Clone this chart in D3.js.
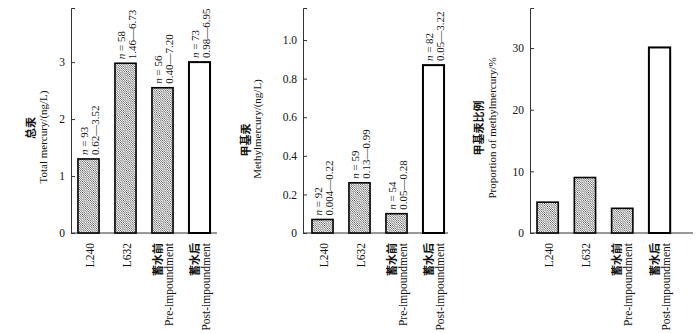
<!DOCTYPE html>
<html>
<head>
<meta charset="utf-8">
<script src="https://cdn.jsdelivr.net/npm/d3@7"></script>
<style>
  html, body { margin: 0; padding: 0; background: #fff; }
  svg { display: block; }
  text { font-family: "Liberation Serif", "Times New Roman", serif; fill: #111; }
  .zh { font-family: "Noto Sans CJK SC", sans-serif; font-weight: 700; }
</style>
</head>
<body>
<svg id="chart" width="700" height="333"></svg>
<script>
// Sites / periods
const categories = ["L240", "L632", "Pre", "Post"];
const labelsZh = ["", "", "蓄水前", "蓄水后"];
const labelsEn = ["L240", "L632", "Pre-impoundment", "Post-impoundment"];
const hatched = [true, true, true, false];

// Mean concentrations
const totalHg = [1.30, 2.98, 2.55, 3.00];
const methylHg = [0.07, 0.26, 0.10, 0.87];
const methylShare = [5.0, 9.0, 4.0, 30.1];

// Sample counts and ranges
const totalN = [93, 58, 56, 73];
const totalRange = ["0.62—3.52", "1.46—6.73", "0.40—7.20", "0.98—6.95"];
const methylN = [92, 59, 54, 82];
const methylRange = ["0.004—0.22", "0.13—0.99", "0.05—0.28", "0.05—3.22"];

// Axis ticks
const totalTicks = [0, 1, 2, 3];
const methylTicks = [0, 0.2, 0.4, 0.6, 0.8, 1.0];
const shareTicks = [0, 10, 20, 30];

const svg = d3.select("#chart");

// Fine diagonal hatch fill
const hs = 2.2;
const defs = svg.append("defs");
const pat = defs.append("pattern")
  .attr("id", "hatch").attr("patternUnits", "userSpaceOnUse")
  .attr("width", hs).attr("height", hs);
pat.append("rect").attr("width", hs).attr("height", hs).attr("fill", "#fff");
pat.append("path")
  .attr("d", `M0,0 L${hs},${hs} M${-hs/2},${hs/2} L${hs/2},${hs*1.5} M${hs/2},${-hs/2} L${hs*1.5},${hs/2}`)
  .attr("stroke", "#222").attr("stroke-width", 0.65);

const y0 = 233, yTop = 8;

const panels = [
  { values: totalHg, max: 3.95, ticks: totalTicks, fmt: d3.format("d"),
    axisX: 71, band0: 70, step: 37, endX: 217,
    zh: "总汞", en: "Total mercury/(ng/L)", zhX: 30, zhY: 128, enX: 43, enY: 137,
    n: totalN, range: totalRange },
  { values: methylHg, max: 1.166, ticks: methylTicks, fmt: d => d === 0 ? "0" : d3.format(".1f")(d),
    axisX: 303, band0: 304, step: 37, endX: 448,
    zh: "甲基汞", en: "Methylmercury/(ng/L)", zhX: 245, zhY: 140, enX: 257, enY: 129,
    n: methylN, range: methylRange },
  { values: methylShare, max: 36.5, ticks: shareTicks, fmt: d3.format("d"),
    axisX: 530, band0: 529, step: 37.3, endX: 693,
    zh: "甲基汞比例", en: "Proportion of methylmercury/%", zhX: 478, zhY: 128, enX: 492, enY: 128,
    n: null, range: null }
];

panels.forEach(p => {
  const g = svg.append("g");
  const y = d3.scaleLinear().domain([0, p.max]).range([y0, yTop]);
  const x = d3.scaleBand().domain(categories)
    .range([p.band0, p.band0 + 4 * p.step])
    .paddingInner(0.43).paddingOuter(0.215);

  // y axis with inward ticks
  const ax = g.append("g").attr("transform", `translate(${p.axisX},0)`)
    .call(d3.axisLeft(y).tickValues(p.ticks).tickFormat(p.fmt)
      .tickSize(-4).tickSizeOuter(-4).tickPadding(6));
  ax.select(".domain").attr("stroke", "#333").attr("stroke-width", 1);
  ax.selectAll(".tick line").attr("stroke", "#333");
  ax.selectAll(".tick text").attr("font-size", 11.5)
    .attr("font-family", "Liberation Serif, serif").attr("fill", "#111");

  // baseline
  g.append("line").attr("x1", p.axisX).attr("x2", p.endX)
    .attr("y1", y0).attr("y2", y0).attr("stroke", "#333").attr("stroke-width", 1);

  // bars
  g.selectAll("rect.bar").data(p.values).join("rect")
    .attr("class", "bar")
    .attr("x", (d, i) => x(categories[i]))
    .attr("y", d => y(d))
    .attr("width", x.bandwidth())
    .attr("height", d => y0 - y(d))
    .attr("fill", (d, i) => hatched[i] ? "url(#hatch)" : "#fff")
    .attr("stroke", "#000")
    .attr("stroke-width", (d, i) => hatched[i] ? 1.6 : 2);

  // value annotations above bars
  if (p.n) {
    p.values.forEach((v, i) => {
      const cx = x(categories[i]) + x.bandwidth() / 2;
      const top = y(v) - 4;
      const t1 = g.append("text")
        .attr("transform", `translate(${cx - 4.5},${top}) rotate(-90)`)
        .attr("dominant-baseline", "central").attr("font-size", 11);
      t1.append("tspan").attr("font-style", "italic").text("n");
      t1.append("tspan").text(" = " + p.n[i]);
      g.append("text")
        .attr("transform", `translate(${cx + 6},${top}) rotate(-90)`)
        .attr("dominant-baseline", "central").attr("font-size", 11)
        .text(p.range[i]);
    });
  }

  // category labels
  categories.forEach((c, i) => {
    const cx = x(c) + x.bandwidth() / 2;
    if (labelsZh[i]) {
      g.append("text").attr("class", "zh")
        .attr("transform", `translate(${cx - 6},243) rotate(-90)`)
        .attr("text-anchor", "end").attr("dominant-baseline", "central")
        .attr("font-size", 11).text(labelsZh[i]);
      g.append("text")
        .attr("transform", `translate(${cx + 6},243) rotate(-90)`)
        .attr("text-anchor", "end").attr("dominant-baseline", "central")
        .attr("font-size", 11.5).text(labelsEn[i]);
    } else {
      g.append("text")
        .attr("transform", `translate(${cx + 1},243) rotate(-90)`)
        .attr("text-anchor", "end").attr("dominant-baseline", "central")
        .attr("font-size", 11.5).text(labelsEn[i]);
    }
  });

  // y titles
  g.append("text").attr("class", "zh")
    .attr("transform", `translate(${p.zhX},${p.zhY}) rotate(-90)`)
    .attr("text-anchor", "middle").attr("dominant-baseline", "central")
    .attr("font-size", 11).text(p.zh);
  g.append("text")
    .attr("transform", `translate(${p.enX},${p.enY}) rotate(-90)`)
    .attr("text-anchor", "middle").attr("dominant-baseline", "central")
    .attr("font-size", 11).text(p.en);
});
</script>
</body>
</html>
